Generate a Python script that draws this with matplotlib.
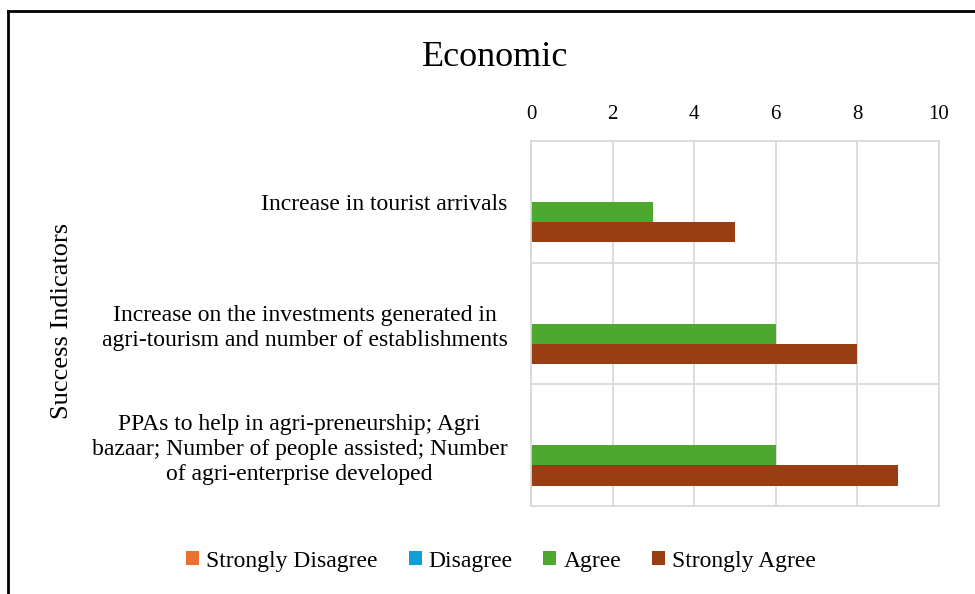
import matplotlib.pyplot as plt
import matplotlib
from matplotlib.lines import Line2D
import numpy as np

matplotlib.rcParams['font.family'] = ['Liberation Serif', 'DejaVu Serif']

# data
categories = ['Increase in tourist arrivals',
              'Increase on the investments generated in\nagri-tourism and number of establishments',
              'PPAs to help in agri-preneurship; Agri\nbazaar; Number of people assisted; Number\nof agri-enterprise developed']
series_names = ['Strongly Disagree', 'Disagree', 'Agree', 'Strongly Agree']
strongly_disagree = [0, 0, 0]
disagree = [0, 0, 0]
agree = [3, 6, 6]
strongly_agree = [5, 8, 9]
colors = ['#E97132', '#0F9ED5', '#4EA72E', '#993D12']

fig = plt.figure(figsize=[9.75, 5.94], dpi=100)
ax = fig.add_axes([531/975, 1-506/594, 408/975, 365/594])

h = 0.167
y = np.arange(len(categories))
vals = [strongly_disagree, disagree, agree, strongly_agree]
for k in range(4):
    ax.barh(y + (k-1.5)*h, vals[k], height=h, color=colors[k], label=series_names[k])

ax.set_xlim(0, 10)
ax.set_ylim(2.5, -0.5)
ax.set_xticks([0, 2, 4, 6, 8, 10])
ax.xaxis.tick_top()
ax.set_yticks(y)
ax.set_yticklabels(categories, fontsize=17, multialignment='center', linespacing=1.25)
ax.tick_params(axis='x', length=0, pad=12, labelsize=15)
ax.tick_params(axis='y', length=0, pad=17)
ax.set_yticks([0.5, 1.5], minor=True)
ax.tick_params(axis='y', which='minor', length=0)
ax.grid(axis='x', color='#d9d9d9', linewidth=1.3)
ax.grid(axis='y', which='minor', color='#d9d9d9', linewidth=1.3)
ax.set_axisbelow(True)
for s in ax.spines.values():
    s.set_color('#d9d9d9')
    s.set_linewidth(1.3)

fig.text(495/975, 1-57/594, 'Economic', fontsize=26, ha='center', va='center')
fig.text(62/975, 1-321/594, 'Success Indicators', fontsize=19, rotation=90, ha='center', va='center')

fig.legend(loc='center', bbox_to_anchor=(0.514, 1-561/594), ncol=4, frameon=False, fontsize=17,
           handlelength=0.55, handleheight=0.55, handletextpad=0.3, columnspacing=1.3)

# outer border
fig.add_artist(Line2D([8/975, 8/975], [0, 1-11/594], color='black', linewidth=2, transform=fig.transFigure))
fig.add_artist(Line2D([8/975, 1], [1-11/594, 1-11/594], color='black', linewidth=2, transform=fig.transFigure))

plt.savefig('out.png')
